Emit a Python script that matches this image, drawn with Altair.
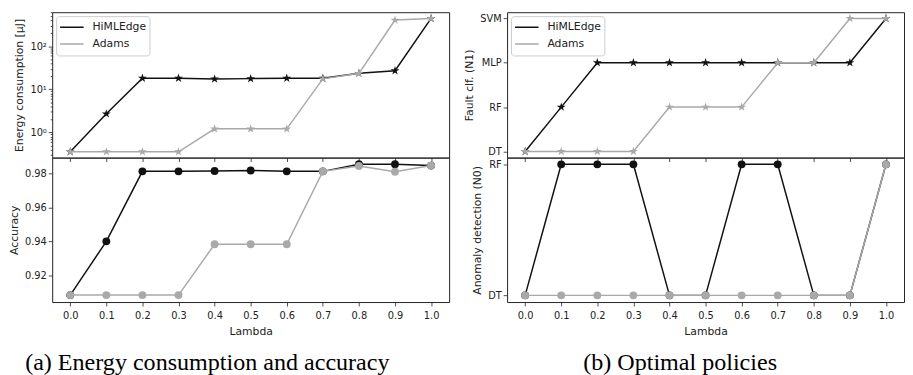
import altair as alt
import pandas as pd

# ---------------- data ----------------
lambdas = [0.0, 0.1, 0.2, 0.3, 0.4, 0.5, 0.6, 0.7, 0.8, 0.9, 1.0]
series = ["HiMLEdge", "Adams"]
colors = ["#111111", "#a9a9a9"]

energy_himl = [0.355, 2.7, 18.1, 18.1, 17.3, 17.7, 18.1, 18.1, 23.5, 27.0, 441.0]
energy_adams = [0.355, 0.355, 0.355, 0.355, 1.21, 1.21, 1.21, 17.5, 23.5, 404.0, 441.0]

acc_himl = [0.9083, 0.9400, 0.9813, 0.9813, 0.9815, 0.9818, 0.9813, 0.9813, 0.9855, 0.9855, 0.9847]
acc_adams = [0.9083, 0.9083, 0.9083, 0.9083, 0.9383, 0.9383, 0.9383, 0.9813, 0.9845, 0.9811, 0.9847]

fault_himl = ["DT", "RF", "MLP", "MLP", "MLP", "MLP", "MLP", "MLP", "MLP", "MLP", "SVM"]
fault_adams = ["DT", "DT", "DT", "DT", "RF", "RF", "RF", "MLP", "MLP", "SVM", "SVM"]
fault_order = ["SVM", "MLP", "RF", "DT"]

anom_himl = ["DT", "RF", "RF", "RF", "DT", "DT", "RF", "RF", "DT", "DT", "RF"]
anom_adams = ["DT", "DT", "DT", "DT", "DT", "DT", "DT", "DT", "DT", "DT", "RF"]
anom_order = ["RF", "DT"]

energy_ticks = [0.3, 0.4, 0.5, 0.6, 0.7, 0.8, 0.9, 1, 2, 3, 4, 5, 6, 7, 8, 9,
                10, 20, 30, 40, 50, 60, 70, 80, 90, 100, 200, 300, 400, 500, 600]
acc_ticks = [0.92, 0.94, 0.96, 0.98]

caption_a = "(a) Energy consumption and accuracy"
caption_b = "(b) Optimal policies"

# ---------------- helpers ----------------
W = 404
H_TOP = 148
H_BOT = 147

STAR = ("M0,-1L0.2245,-0.309L0.9511,-0.309L0.3633,0.118L0.5878,0.809L0,0.382"
        "L-0.5878,0.809L-0.3633,0.118L-0.9511,-0.309L-0.2245,-0.309Z")

MAJOR = "datum.value == 1 || datum.value == 10 || datum.value == 100"

x_scale = alt.Scale(domain=[-0.05, 1.05], nice=False, zero=False)
x_axis_top = alt.Axis(values=lambdas, labels=False, title=None, tickSize=4)
x_axis_bot = alt.Axis(values=lambdas, format=".1f", title="Lambda", tickSize=4,
                      labelFlush=False, labelPadding=5, titlePadding=5)


def panel(vals_h, vals_a, ytype, yscale, yaxis, shape, size, height, xaxis, legend):
    df = pd.DataFrame({
        "lambda": lambdas * 2,
        "value": list(vals_h) + list(vals_a),
        "series": ["HiMLEdge"] * len(lambdas) + ["Adams"] * len(lambdas),
    })
    layers = []
    for s, c in zip(series, colors):
        base = alt.Chart(df).transform_filter(alt.datum.series == s)
        x = alt.X("lambda:Q", scale=x_scale, axis=xaxis)
        y = alt.Y(f"value:{ytype}", scale=yscale, axis=yaxis)
        if legend is not None:
            col = alt.Color("series:N", scale=alt.Scale(domain=series, range=colors), legend=legend)
        else:
            col = alt.value(c)
        line = base.mark_line(strokeWidth=1.5).encode(
            x=x, y=y, color=col, order=alt.Order("lambda:Q"))
        pts = base.mark_point(filled=True, shape=shape, size=size, opacity=1, color=c,
                              strokeWidth=0).encode(x=x, y=y)
        layers += [line, pts]
    return alt.layer(*layers).properties(width=W, height=height)


legend = alt.Legend(title=None, orient="top-left", offset=4, symbolType="stroke",
                    symbolSize=576, symbolStrokeWidth=1.5, labelFontSize=11,
                    labelFont="DejaVu Sans", fillColor="white", strokeColor="#cccccc",
                    padding=3, cornerRadius=3, rowPadding=0, clipHeight=16.5,
                    labelOffset=8, labelColor="#222")

# energy (log)
energy = panel(
    energy_himl, energy_adams, "Q",
    alt.Scale(type="log", domain=[0.26, 615], nice=False),
    alt.Axis(values=energy_ticks, title="Energy consumption [µJ]", labelOverlap=False,
             labelExpr="datum.value == 1 ? '10⁰' : datum.value == 10 ? '10¹' : datum.value == 100 ? '10²' : ''",
             labelFontSize={"condition": {"test": MAJOR, "value": 10}, "value": 0},
             tickSize={"condition": {"test": MAJOR, "value": 4}, "value": 2}),
    STAR, 90, H_TOP, x_axis_top, legend)

accuracy = panel(
    acc_himl, acc_adams, "Q",
    alt.Scale(domain=[0.9042, 0.9894], nice=False, zero=False),
    alt.Axis(values=acc_ticks, format=".2f", title="Accuracy", tickSize=4),
    "circle", 64, H_BOT, x_axis_bot, None)

fault = panel(
    fault_himl, fault_adams, "N",
    alt.Scale(type="point", domain=fault_order, padding=0.14),
    alt.Axis(title="Fault clf. (N1)", tickSize=4),
    STAR, 90, H_TOP, x_axis_top, legend)

anom = panel(
    anom_himl, anom_adams, "N",
    alt.Scale(type="point", domain=anom_order, padding=0.051),
    alt.Axis(title="Anomaly detection (N0)", tickSize=4),
    "circle", 64, H_BOT, x_axis_bot, None)


def caption(text, dx):
    return alt.TitleParams(text, orient="bottom", anchor="middle", font="Liberation Serif",
                           fontSize=24.5, fontWeight="normal", color="black", offset=15, dx=dx)


col_a = alt.vconcat(energy, accuracy, spacing=0, bounds="flush", title=caption(caption_a, -22)) \
    .resolve_scale(color="independent").resolve_legend(color="independent")
col_b = alt.vconcat(fault, anom, spacing=0, bounds="flush", title=caption(caption_b, -4)) \
    .resolve_scale(color="independent").resolve_legend(color="independent")

chart = alt.hconcat(col_a, col_b, spacing=13) \
    .resolve_scale(color="independent").resolve_legend(color="independent") \
    .properties(padding=0, background="white") \
    .configure_view(stroke="#222222", strokeWidth=1) \
    .configure_axis(domain=False, grid=False, tickColor="#222222", tickWidth=0.8,
                    labelFont="DejaVu Sans", labelFontSize=10, labelColor="#222222",
                    titleFont="DejaVu Sans", titleFontSize=11, titleFontWeight="normal",
                    titleColor="#222222", labelPadding=2, titlePadding=5)

chart.save("out.html", embed_options={"renderer": "svg", "actions": False})
